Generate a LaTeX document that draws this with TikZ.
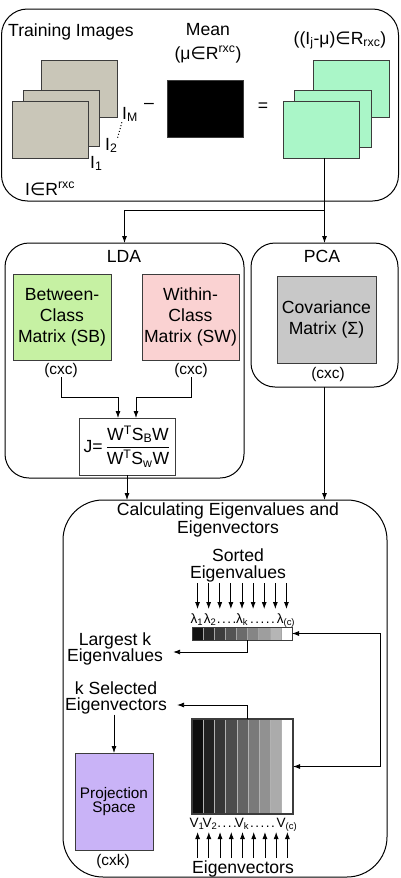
\documentclass[tikz,border=0pt]{standalone}
\usepackage{amsmath}
\usepackage{fontspec}
\setmainfont{Liberation Sans}
\newfontfamily\symfont{DejaVu Sans}
\usetikzlibrary{arrows.meta}
\definecolor{boxline}{RGB}{60,60,60}
\definecolor{imggray}{RGB}{201,198,184}
\definecolor{imggreen}{RGB}{170,246,200}
\definecolor{sbgreen}{RGB}{198,241,163}
\definecolor{swpink}{RGB}{250,210,210}
\definecolor{covgray}{RGB}{200,200,200}
\definecolor{projpurple}{RGB}{201,179,247}
\newcommand{\elem}{{\symfont ∈}}

\begin{document}
\begin{tikzpicture}[x=1pt, y=-1pt, >={Latex[length=7pt,width=5pt]},
    panel/.style={draw=black, line width=1pt, inner sep=0pt, outer sep=0pt},
    mat/.style={draw=boxline, line width=0.9pt, inner sep=0pt, outer sep=0pt},
    txt/.style={font=\fontsize{17.6}{21}\selectfont, inner sep=0pt},
    note/.style={font=\fontsize{15.4}{15}\selectfont, inner sep=0pt},
    idx/.style={font=\fontsize{13.5}{13}\selectfont, inner sep=0pt},
    conn/.style={line width=0.8pt}]
    \useasboundingbox (0,0) rectangle (400,878);
    % data preparation
    \node[panel, rounded corners=26pt, minimum width=397pt, minimum height=192pt] (prep) at (200,105) {};
    \node[txt, anchor=base west] (trainlbl) at (8,36) {Training Images};
    \node[mat, fill=imggray, minimum width=76pt, minimum height=57pt] (img3) at (79,88.5) {};
    \node[mat, fill=imggray, minimum width=76pt, minimum height=56pt] (img2) at (61,118) {};
    \node[mat, fill=imggray, minimum width=76pt, minimum height=57pt] (img1) at (50,129.5) {};
    \node[txt, anchor=base west] (iM) at (122,119) {I\textsubscript{M}};
    \node[txt, anchor=base west] (i2) at (105,150) {I\textsubscript{2}};
    \node[txt, anchor=base west] (i1) at (90,168) {I\textsubscript{1}};
    \draw[dotted, line width=1pt] (i2.north east) -- (iM.south west);
    \node[txt, anchor=base west] (dimI) at (25,195) {I\elem R\textsuperscript{rxc}};
    \node[txt] (minus) at (149,106) {–};
    \node[txt, anchor=base] (meanlbl) at (208,35) {Mean};
    \node[txt, anchor=base] (meandim) at (208,59) {(μ\elem R\textsuperscript{rxc})};
    \node[mat, fill=black, minimum width=76pt, minimum height=57pt] (mean) at (205,108.5) {};
    \node[txt] (eq) at (263,107) {=};
    \node[txt, anchor=base] (difflbl) at (340,44) {((I\textsubscript{j}-μ)\elem R\textsubscript{rxc})};
    \node[mat, fill=imggreen, minimum width=76pt, minimum height=57pt] (diff3) at (351,88.5) {};
    \node[mat, fill=imggreen, minimum width=77pt, minimum height=57pt] (diff2) at (332.5,118.5) {};
    \node[mat, fill=imggreen, minimum width=76pt, minimum height=57pt] (diff1) at (321,129.5) {};
    % LDA
    \node[panel, rounded corners=24pt, minimum width=239pt, minimum height=235pt] (lda) at (124.5,360.5) {};
    \node[txt, anchor=base] (ldalbl) at (124,262) {LDA};
    \node[mat, txt, fill=sbgreen, minimum width=98pt, minimum height=86pt, align=center] (sb) at (62,317) {Between-\\Class\\Matrix (SB)};
    \node[mat, txt, fill=swpink, minimum width=97pt, minimum height=86pt, align=center] (sw) at (190.5,317) {Within-\\Class\\Matrix (SW)};
    \node[note, anchor=base] (sbdim) at (61,374) {(cxc)};
    \node[note, anchor=base] (swdim) at (191,374) {(cxc)};
    \node[mat, txt, fill=white, minimum width=96pt, minimum height=57pt] (jfun) at (127,446.5)
      {J=\,$\dfrac{\text{W\textsuperscript{T}S\textsubscript{B}W}}{\text{W\textsuperscript{T}S\textsubscript{w}W}}$};
    \draw[->, conn] (sbdim.south) -- ++(0,20) -| ([xshift=-9pt]jfun.north);
    \draw[->, conn] (swdim.south) -- ++(0,20) -| ([xshift=9pt]jfun.north);
    % PCA
    \node[panel, rounded corners=24pt, minimum width=147pt, minimum height=144pt] (pca) at (324.5,315) {};
    \node[txt, anchor=base] (pcalbl) at (322,262) {PCA};
    \node[mat, txt, fill=covgray, minimum width=99pt, minimum height=87pt, align=center] (cov) at (326.5,319.5) {Covariance\\Matrix (Σ)};
    \node[note, anchor=base] (covdim) at (328,378) {(cxc)};
    \path (pca.north) ++(0,-33) coordinate (split);
    \draw[->, conn] (diff1.south -| pca.north) -- (pca.north);
    \draw[->, conn] (split) -| (lda.north);
    % eigen decomposition
    \node[panel, rounded corners=40pt, minimum width=324pt, minimum height=377pt] (calc) at (225,688.5) {};
    \node[txt, align=center, font=\fontsize{17.6}{18}\selectfont] (calclbl) at (228,519.5) {Calculating Eigenvalues and\\Eigenvectors};
    \draw[->, conn] (jfun.south) -- (jfun.south |- calc.north);
    \draw[->, conn] (pca.south) -- (pca.south |- calc.north);
    \node[txt, align=center, font=\fontsize{17.6}{16.5}\selectfont] (sortlbl) at (238,565.5) {Sorted\\Eigenvalues};
    \foreach \g [count=\i from 0] in {7,16,24,33,42,52,62,71,100}
      \filldraw[fill=white!\g!black, draw=gray!70, line width=0.5pt] ({192+100/9*\i},627) rectangle ++(100/9,13);
    \node[inner sep=0pt, outer sep=0pt, draw=boxline, line width=0.9pt, minimum width=100pt, minimum height=13pt] (evbar) at (242,633.5) {};
    \foreach \i in {0,...,8}
      \draw[->, conn] ({192+100/9*(\i+0.5)},583) -- ++(0,26);
    \node[idx, anchor=base] (lam1) at (197,623) {λ\textsubscript{1}};
    \node[idx, anchor=base] (lam2) at (210,623) {λ\textsubscript{2}};
    \node[idx, anchor=base] (lamdots1) at (226.5,623) {.\kern1.5pt.\kern1.5pt.\kern1.5pt.};
    \node[idx, anchor=base] (lamk) at (242,623) {λ\textsubscript{k}};
    \node[idx, anchor=base] (lamdots2) at (262.5,623) {.\kern1.5pt.\kern1.5pt.\kern1.5pt.\kern1.5pt.};
    \node[idx, anchor=base] (lamc) at (286,623) {λ\textsubscript{(c)}};
    \node[txt, align=center, font=\fontsize{17.6}{16.5}\selectfont, inner xsep=10pt] (largest) at (115,649) {Largest k\\Eigenvalues};
    \node[txt, align=center, font=\fontsize{17.6}{16.5}\selectfont, inner xsep=10pt] (ksel) at (116,698) {k Selected\\Eigenvectors};
    \foreach \g [count=\i from 0] in {5,13,21,30,39,48,57,67,100}
      \filldraw[fill=white!\g!black, draw=gray!60, line width=0.6pt] ({192+101/9*\i},719) rectangle ++(101/9,95);
    \node[inner sep=0pt, outer sep=0pt, draw=boxline, line width=1.6pt, minimum width=101pt, minimum height=95pt] (evmat) at (242.5,766.5) {};
    \draw[->, conn] ([xshift=5pt]evbar.south) |- ([yshift=-3pt]largest.east);
    \draw[->, conn] ([xshift=4.5pt]evmat.north) |- ([yshift=-7pt]ksel.east);
    \draw[<->, conn] (evbar.east) -- ++(88,0) |- (evmat.east);
    \node[idx, anchor=base] (vec1) at (197,827) {V\textsubscript{1}};
    \node[idx, anchor=base] (vec2) at (210,827) {V\textsubscript{2}};
    \node[idx, anchor=base] (vecdots1) at (227,827) {.\kern1.5pt.\kern1.5pt.\kern1.5pt.};
    \node[idx, anchor=base] (veck) at (242,827) {V\textsubscript{k}};
    \node[idx, anchor=base] (vecdots2) at (262.5,827) {.\kern1.5pt.\kern1.5pt.\kern1.5pt.\kern1.5pt.};
    \node[idx, anchor=base] (vecc) at (287,827) {V\textsubscript{(c)}};
    \foreach \i in {0,...,8}
      \draw[->, conn] ({192+101/9*(\i+0.5)},858) -- ++(0,-26);
    \node[txt, anchor=base] (evlbl) at (243,873) {Eigenvectors};
    \node[mat, fill=projpurple, minimum width=78pt, minimum height=97pt, align=center, font=\fontsize{15.3}{14}\selectfont] (proj) at (114,801.5) {Projection\\Space};
    \node[note, anchor=base] (projdim) at (113,865) {(cxk)};
    \draw[->, conn] (ksel.south -| proj.north) -- (proj.north);
  \end{tikzpicture}
\end{document}
